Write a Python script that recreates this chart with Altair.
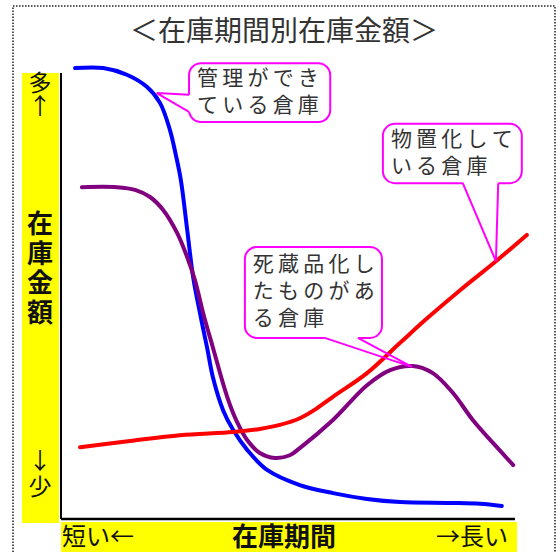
import altair as alt
import pandas as pd

FONT = "Noto Sans CJK JP"

# 在庫期間 (x) and 在庫金額 (y), both on a relative 0-100 scale
BLUE_X = [3.1, 9.3, 14.5, 18.9, 21.8, 24.0, 25.3, 26.4, 27.8, 29.1, 30.6, 32.2,
          33.5, 35.7, 37.9, 41.0, 45.4, 52.6, 59.9, 67.4, 74.7, 85.7, 92.3, 97.1]
BLUE_Y = [101.1, 101.1, 99.6, 96.9, 93.3, 87.2, 81.6, 76.0, 64.8, 54.3, 46.2, 38.3,
          31.6, 24.4, 20.0, 15.5, 11.0, 7.6, 5.8, 4.5, 3.8, 3.6, 3.4, 2.9]

PURPLE_X = [4.6, 12.3, 16.3, 19.6, 22.5, 25.6, 27.8, 29.5, 31.3, 33.5, 36.6, 38.8, 41.0,
            43.8, 47.1, 50.4, 52.6, 59.9, 67.4, 72.5, 77.5, 81.9, 86.3, 90.7, 95.2, 99.6]
PURPLE_Y = [74.4, 74.4, 73.8, 72.2, 69.3, 64.1, 58.7, 53.6, 46.2, 38.3, 27.4, 21.7, 17.7,
            14.8, 13.7, 14.3, 15.9, 22.2, 30.0, 33.4, 34.3, 32.7, 28.3, 22.2, 17.0, 12.1]

RED_X = [4.2, 15.2, 26.2, 37.9, 43.8, 48.2, 52.6, 56.2, 59.9, 67.4, 74.7, 80.2, 87.9,
         95.8, 102.6]
RED_Y = [16.1, 17.5, 18.8, 19.5, 20.2, 21.1, 22.6, 24.7, 27.4, 32.7, 39.5, 44.6, 51.3,
         57.8, 63.7]

# Axis extents
AXIS_MIN, AXIS_MAX = 0, 100

# Speech-bubble annotations (data units)
CALLOUT_LINES = [["管理ができ", "ている倉庫"],
                 ["物置化して", "いる倉庫"],
                 ["死蔵品化し", "たものがあ", "る倉庫"]]
BOX_LEFT = [28.2, 70.9, 40.5]
BOX_RIGHT = [59.3, 101.5, 70.7]
BOX_BOTTOM = [89.0, 75.3, 40.6]
BOX_TOP = [102.2, 88.6, 61.0]
TIP_X = [21.1, 95.8, 77.3]
TIP_Y = [95.5, 57.8, 34.1]
BASE1_X = [28.2, 88.5, 58.1]
BASE1_Y = [95.1, 75.3, 40.6]
BASE2_X = [28.2, 96.3, 65.4]
BASE2_Y = [91.3, 75.3, 40.6]

W, H = 454, 446
LINE_H = 27
YELLOW = "#ffff00"
MAGENTA = "#ff00ff"

X_SCALE = alt.Scale(domain=[AXIS_MIN, AXIS_MAX], nice=False, zero=False)
Y_SCALE = alt.Scale(domain=[AXIS_MIN, AXIS_MAX], nice=False, zero=False)
one = pd.DataFrame({"k": [0]})


def xq(field):
    return alt.X(field, type="quantitative", scale=X_SCALE, axis=None)


def yq(field):
    return alt.Y(field, type="quantitative", scale=Y_SCALE, axis=None)


def curve(xs, ys, color):
    df = pd.DataFrame({"period": xs, "amount": ys, "idx": list(range(len(xs)))})
    return alt.Chart(df).mark_line(
        color=color, strokeWidth=4, interpolate="catmull-rom", strokeCap="round"
    ).encode(x=xq("period"), y=yq("amount"), order=alt.Order("idx:Q"))


def label(txt, x, y, size, weight="normal", align="center", color="#111"):
    return alt.Chart(one).mark_text(
        text=txt, font=FONT, fontSize=size, fontWeight=weight, align=align,
        baseline="middle", color=color,
    ).encode(x=alt.value(x), y=alt.value(y))


def stacked(chars, x, y0, step, size, weight="normal"):
    # vertical writing: one glyph per row
    return [label(c, x, y0 + i * step, size, weight) for i, c in enumerate(chars)]


# frame and yellow axis bands
border = alt.Chart(one).mark_rect(
    fillOpacity=0, stroke="#222", strokeWidth=1.5, strokeDash=[1.5, 1.5]
).encode(x=alt.value(-48), x2=alt.value(494), y=alt.value(-67), y2=alt.value(492))
band_y = alt.Chart(one).mark_rect(color=YELLOW).encode(
    x=alt.value(-39), x2=alt.value(-2), y=alt.value(0), y2=alt.value(450))
band_x = alt.Chart(one).mark_rect(color=YELLOW).encode(
    x=alt.value(0), x2=alt.value(456), y=alt.value(449), y2=alt.value(479))

# axis lines
axis_df = pd.DataFrame({"lo": [AXIS_MIN], "hi": [AXIS_MAX]})
y_axis = alt.Chart(axis_df).mark_rule(color="black", strokeWidth=2).encode(
    x=xq("lo"), y=yq("lo"), y2="hi:Q")
x_axis = alt.Chart(axis_df).mark_rule(color="black", strokeWidth=2.5).encode(
    x=xq("lo"), x2="hi:Q", y=yq("lo"))

title = label("＜在庫期間別在庫金額＞", 223, -40, 28, color="#333")
y_labels = (stacked("多↑", -21, 11, 23, 23)
            + stacked("在庫金額", -21, 152, 29.5, 26, "bold")
            + stacked("↓少", -21, 389, 26, 23))
lab_short = label("短い←", 1, 465, 24, align="left")
lab_axis_x = label("在庫期間", 223, 465, 26, weight="bold")
lab_long = label("→長い", 447, 465, 24, align="right")

# callouts
box_df = pd.DataFrame({
    "left": BOX_LEFT, "right": BOX_RIGHT, "bottom": BOX_BOTTOM, "top": BOX_TOP,
    "bx1": BASE1_X, "by1": BASE1_Y, "bx2": BASE2_X, "by2": BASE2_Y,
})
boxes = alt.Chart(box_df).mark_rect(
    fill="white", stroke=MAGENTA, strokeWidth=2, cornerRadius=12
).encode(x=xq("left"), x2="right:Q", y=yq("bottom"), y2="top:Q")
openings = alt.Chart(box_df).mark_rule(color="white", strokeWidth=3.5).encode(
    x=xq("bx1"), x2="bx2:Q", y=yq("by1"), y2="by2:Q")

tail_rows = []
for i in range(len(TIP_X)):
    tail_rows += [
        {"id": i, "k": 0, "tx": BASE1_X[i], "ty": BASE1_Y[i]},
        {"id": i, "k": 1, "tx": TIP_X[i], "ty": TIP_Y[i]},
        {"id": i, "k": 2, "tx": BASE2_X[i], "ty": BASE2_Y[i]},
    ]
tails = alt.Chart(pd.DataFrame(tail_rows)).mark_line(
    color=MAGENTA, strokeWidth=2, strokeJoin="miter"
).encode(x=xq("tx"), y=yq("ty"), detail="id:N", order=alt.Order("k:Q"))

# one row per text line, centred vertically inside each bubble
px_to_y = (AXIS_MAX - AXIS_MIN) / H
line_rows = []
for i, lines in enumerate(CALLOUT_LINES):
    mid = (BOX_BOTTOM[i] + BOX_TOP[i]) / 2
    n = len(lines)
    for j, line in enumerate(lines):
        line_rows.append({
            "text": "\u2009".join(line),
            "left": BOX_LEFT[i],
            "ly": mid + ((n - 1) / 2 - j) * LINE_H * px_to_y,
        })
texts = alt.Chart(pd.DataFrame(line_rows)).mark_text(
    font=FONT, fontSize=21, align="left", baseline="middle", color="#333", dx=8
).encode(x=xq("left"), y=yq("ly"), text="text:N")

chart = alt.layer(
    border, band_y, band_x, y_axis, x_axis,
    title, *y_labels, lab_short, lab_axis_x, lab_long,
    curve(BLUE_X, BLUE_Y, "#0000ff"),
    curve(PURPLE_X, PURPLE_Y, "#800080"),
    curve(RED_X, RED_Y, "#ff0000"),
    boxes, openings, tails, texts,
).properties(
    width=W, height=H,
    padding={"left": 61, "top": 73, "right": 45, "bottom": 34},
    autosize=alt.AutoSizeParams(type="none"),
    background="white",
).configure_view(stroke=None)

chart.save("out.html", embed_options={"renderer": "svg", "actions": False})
